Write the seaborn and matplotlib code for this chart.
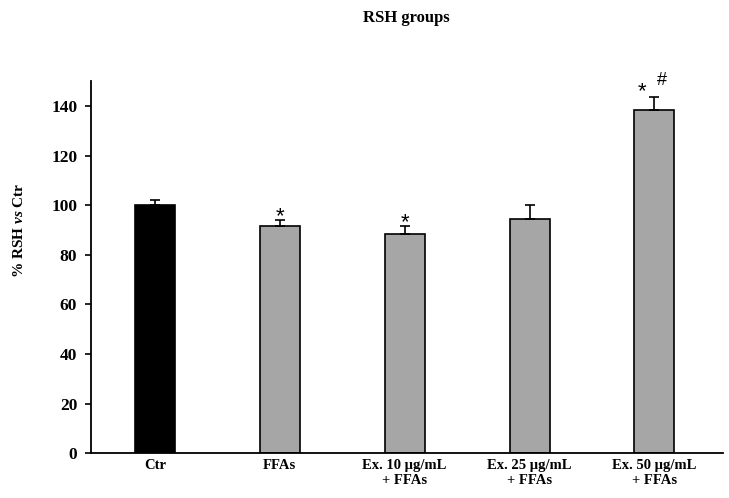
import matplotlib
matplotlib.use('Agg')
import matplotlib.pyplot as plt
import seaborn as sns
import pandas as pd
import numpy as np

# data
groups = ['Ctr', 'FFAs', 'Ex. 10 \u00b5g/mL\n+ FFAs', 'Ex. 25 \u00b5g/mL\n+ FFAs', 'Ex. 50 \u00b5g/mL\n+ FFAs']
rsh_mean = [100.0, 91.6, 88.3, 94.4, 138.4]
rsh_err = [2.2, 2.6, 3.3, 5.6, 5.4]
star_marks = ['', '*', '*', '', '*']
hash_marks = ['', '', '', '', '#']
bar_colors = ['#000000', '#a6a6a6', '#a6a6a6', '#a6a6a6', '#a6a6a6']

sns.set_style('white')
plt.rcParams['font.family'] = ['Liberation Serif', 'DejaVu Serif']
plt.rcParams['mathtext.fontset'] = 'custom'
plt.rcParams['mathtext.it'] = 'Liberation Serif:italic:bold'
plt.rcParams['mathtext.rm'] = 'Liberation Serif:bold'
# plain black text like the original
for key in ['text.color', 'axes.labelcolor', 'xtick.color', 'ytick.color']:
    plt.rcParams[key] = 'black'

df = pd.DataFrame({'group': groups, 'rsh': rsh_mean})

fig = plt.figure(figsize=(7.29, 4.98), dpi=100)
ax = fig.add_axes([0.125, 0.090, 0.867, 0.747])

sns.barplot(data=df, x='group', y='rsh', hue='group', palette=bar_colors,
            width=0.32, edgecolor='black', linewidth=1.2, legend=False, ax=ax)

# upper error bars only
x = np.arange(len(groups))
ax.errorbar(x, rsh_mean, yerr=[np.zeros(len(groups)), rsh_err], fmt='none',
            ecolor='black', elinewidth=1.2, capsize=3.5, capthick=1.2)

# significance marks
for i in range(len(groups)):
    top = rsh_mean[i] + rsh_err[i]
    if star_marks[i] and hash_marks[i]:
        ax.text(i - 0.1, top - 2.2, star_marks[i], ha='center', va='bottom', fontsize=16,
                family='Liberation Sans')
        ax.text(i + 0.06, top + 3.2, hash_marks[i], ha='center', va='bottom', fontsize=13,
                family='Liberation Sans')
    elif star_marks[i]:
        ax.text(i, top - 3.0, star_marks[i], ha='center', va='bottom', fontsize=16,
                family='Liberation Sans')

ax.set_ylim(0, 150)
ax.set_xlim(-0.51, 4.55)
ax.set_yticks(np.arange(0, 141, 20))
ax.set_xlabel('')
ax.set_ylabel(r'% RSH $\mathit{vs}$ Ctr', fontsize=11, fontweight='bold')
ax.yaxis.set_label_coords(-0.103, 0.60)
fig.text(0.558, 0.964, 'RSH groups', ha='center', va='center', fontsize=12, fontweight='bold')

for side in ['top', 'right']:
    ax.spines[side].set_visible(False)
for side in ['left', 'bottom']:
    ax.spines[side].set_linewidth(1.3)
    ax.spines[side].set_color('black')

ax.tick_params(axis='y', direction='out', length=4, width=1.2, left=True, labelsize=12.5, pad=6)
ax.tick_params(axis='x', length=0, labelsize=10.5, pad=4)
for lab in ax.get_yticklabels() + ax.get_xticklabels():
    lab.set_fontweight('bold')

plt.savefig('out.png', dpi=100)
